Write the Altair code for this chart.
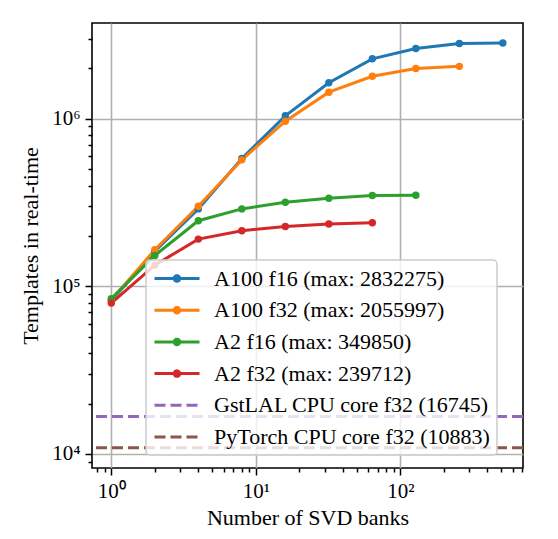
import pandas as pd
import altair as alt

FONT = "Liberation Serif"

banks = [1, 2, 4, 8, 16, 32, 64, 128, 256, 512]
a100_f16 = [82000, 162000, 290000, 580000, 1042000, 1640000, 2280000, 2627000, 2813000, 2832275]
a100_f32 = [83000, 165500, 301000, 569000, 968000, 1442000, 1795000, 1995000, 2055997]
a2_f16 = [84500, 153000, 246500, 290000, 318000, 336000, 349000, 349850]
a2_f32 = [79500, 134000, 191500, 215000, 228000, 235500, 239712]

series_names = [
    "A100 f16 (max: 2832275)",
    "A100 f32 (max: 2055997)",
    "A2 f16 (max: 349850)",
    "A2 f32 (max: 239712)",
]
cpu_names = ["GstLAL CPU core f32 (16745)", "PyTorch CPU core f32 (10883)"]
cpu_values = [16745, 10883]
colors = ["#1f77b4", "#ff7f0e", "#2ca02c", "#d62728", "#9467bd", "#8c564b"]

rows = []
for name, vals in zip(series_names, [a100_f16, a100_f32, a2_f16, a2_f32]):
    for b, v in zip(banks, vals):
        rows.append({"label": name, "banks": b, "templates": v})
df_series = pd.DataFrame(rows)
df_cpu = pd.DataFrame({"label": cpu_names, "templates": cpu_values})

# tick positions (major decades + minor ticks inside the visible range)
x_ticks = [0.8, 0.9] + [m * 10**k for k in range(0, 3) for m in range(1, 10) if m * 10**k <= 700]
y_ticks = [9000] + [m * 10**k for k in range(4, 7) for m in range(1, 10) if m * 10**k <= 3000000]

x_major = "datum.value == 1 || datum.value == 10 || datum.value == 100"
y_major = "datum.value == 10000 || datum.value == 100000 || datum.value == 1000000"

x_axis = alt.Axis(
    values=x_ticks,
    labelExpr="datum.value == 1 ? '10⁰' : datum.value == 10 ? '10¹' : datum.value == 100 ? '10²' : ''",
    labelOverlap=False,
    labelFont=FONT, labelFontSize=21, labelColor="black", labelPadding=5,
    tickSize={"condition": {"test": x_major, "value": 7}, "value": 4},
    tickColor="black", tickWidth=1.5,
    grid=True, gridColor="#b0b0b0", gridWidth=1.6,
    gridOpacity={"condition": {"test": x_major, "value": 1}, "value": 0},
    domain=False,
    title="Number of SVD banks", titleFont=FONT, titleFontSize=22,
    titleFontWeight="normal", titleColor="black", titleY=49, titleBaseline="middle",
)
y_axis = alt.Axis(
    values=y_ticks,
    labelExpr="datum.value == 10000 ? '10⁴' : datum.value == 100000 ? '10⁵' : datum.value == 1000000 ? '10⁶' : ''",
    labelOverlap=False,
    labelFont=FONT, labelFontSize=21, labelColor="black", labelPadding=5,
    tickSize={"condition": {"test": y_major, "value": 7}, "value": 4},
    tickColor="black", tickWidth=1.5,
    grid=True, gridColor="#b0b0b0", gridWidth=1.6,
    gridOpacity={"condition": {"test": y_major, "value": 1}, "value": 0},
    domain=False,
    title="Templates in real-time", titleFont=FONT, titleFontSize=22,
    titleFontWeight="normal", titleColor="black",
    titleX=-62, titleBaseline="middle",
)

x_scale = alt.Scale(type="log", domain=[0.735, 706], nice=False)
y_scale = alt.Scale(type="log", domain=[8250, 3730000], nice=False)

# legend symbols: solid line with a dot for the GPU series, dashed line for the CPU references
is_cpu = "indexof(datum.value, 'CPU') >= 0"
line_dot = "M-1,0H3.5M1.525,0A0.275,0.275,0,1,1,0.975,0A0.275,0.275,0,1,1,1.525,0Z"
legend = alt.Legend(
    title=None, orient="none", legendX=54, legendY=237,
    fillColor="rgba(255,255,255,0.8)", strokeColor="#cccccc", cornerRadius=4, padding=7,
    labelFont=FONT, labelFontSize=22, labelColor="black", labelLimit=500, labelOffset=38,
    symbolSize=400, symbolStrokeWidth=3, rowPadding=8.7, symbolOpacity=1,
    symbolType={"expr": f"{is_cpu} ? 'M-1,0H3.5' : '{line_dot}'"},
    symbolDash={"expr": f"{is_cpu} ? [11, 5] : [1, 0]"},
    symbolFillColor={"expr": f"{is_cpu} ? 'transparent' : scale('color', datum.value)"},
    symbolStrokeColor={"expr": "scale('color', datum.value)"},
)

color = alt.Color("label:N", scale=alt.Scale(domain=series_names + cpu_names, range=colors), legend=legend)

base = alt.Chart(df_series).encode(
    alt.X("banks:Q", scale=x_scale, axis=x_axis),
    alt.Y("templates:Q", scale=y_scale, axis=y_axis),
    color,
)
lines = base.mark_line(strokeWidth=3)
points = base.mark_point(filled=True, size=55, opacity=1)

rules = alt.Chart(df_cpu).mark_rule(strokeWidth=3, strokeDash=[11, 5]).encode(
    y=alt.Y("templates:Q"),
    color=alt.Color("label:N"),
)

chart = (lines + points + rules).properties(
    width=431, height=445,
    autosize=alt.AutoSizeParams(type="none"),
    padding={"left": 84, "top": 15, "right": 27, "bottom": 63},
).configure_view(
    stroke="black", strokeWidth=1.6
).configure_legend(
    strokeWidth=1.5
)

chart.save("out.html", embed_options={"renderer": "svg", "actions": False})
